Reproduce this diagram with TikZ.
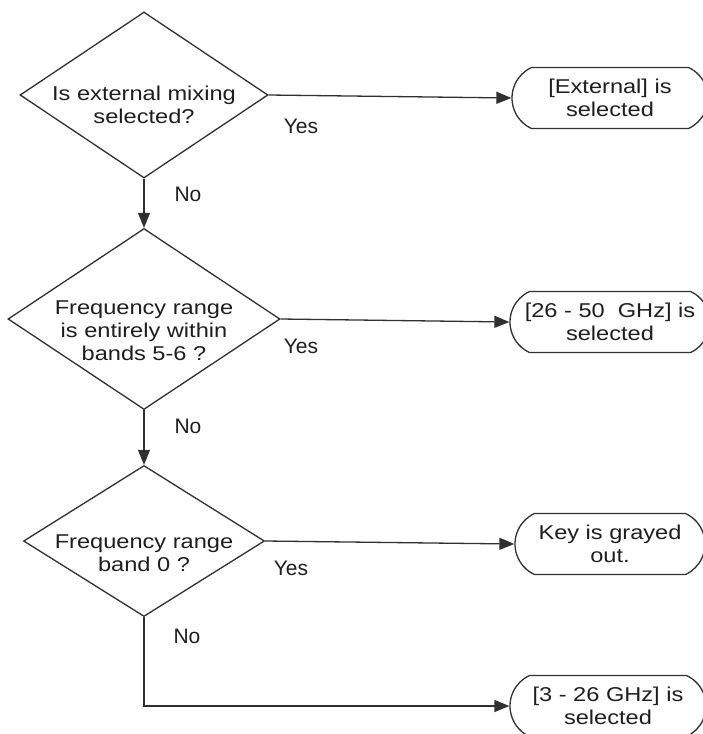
\documentclass[tikz,border=0pt]{standalone}
\usepackage{fontspec}
\setmainfont{Liberation Sans}
\newfontfamily\boxfont[FakeStretch=1.18]{Liberation Sans}
\usetikzlibrary{shapes.geometric,shapes.misc,arrows.meta,positioning}
\definecolor{linegray}{HTML}{303030}
\definecolor{textgray}{HTML}{1e1e1e}

\begin{document}
\begin{tikzpicture}[x=1pt,y=-1pt,>={Triangle[length=15pt,width=12pt]},
    decision/.style={diamond,draw=linegray,line width=1.3pt,inner sep=0pt},
    outcome/.style={rounded rectangle,rounded rectangle arc length=130,
        draw=linegray,line width=1.3pt,minimum height=61pt,inner sep=0pt,
        align=center,text=textgray,font=\boxfont\fontsize{20}{23}\selectfont},
    question/.style={align=center,text=textgray,
        font=\boxfont\fontsize{20}{23}\selectfont},
    answer/.style={text=textgray,font=\fontsize{21}{24}\selectfont},
    flow/.style={->,draw=linegray,line width=1.3pt}]

    \useasboundingbox (0,0) rectangle (702,734);

    % decisions, text set a little below the centre
    \node[decision,minimum width=248pt,minimum height=166pt] (ext) at (144,95) {};
    \node[question] (extq) at ([yshift=-10pt]ext.center) {Is external mixing\\selected?};

    \node[decision,minimum width=272pt,minimum height=181pt] (band56) at (144,319) {};
    \node[question] (band56q) at ([yshift=-12pt]band56.center) {Frequency range\\is entirely within\\bands 5-6 ?};

    \node[decision,minimum width=241pt,minimum height=151pt] (band0) at (144,541) {};
    \node[question] (band0q) at ([yshift=-12pt]band0.center) {Frequency range\\band 0 ?};

    % outcomes, cut off at the right edge
    \node[outcome,minimum width=196pt] (extsel) at (610,98) {[External] is\\selected};
    \node[outcome,minimum width=200pt] (hisel) at (610,322) {[26 - 50\ \ GHz] is\\selected};
    \node[outcome,minimum width=190pt] (grayed) at (610,544) {Key is grayed\\out.};
    \node[outcome,minimum width=196pt] (losel) at (608,706) {[3 - 26 GHz] is\\selected};

    \node[answer] (extyes) at (301,126) {Yes};
    \node[answer] (extno) at (188,194) {No};
    \node[answer] (band56yes) at (301,346) {Yes};
    \node[answer] (band56no) at (188,426) {No};
    \node[answer] (band0yes) at (291,568) {Yes};
    \node[answer] (band0no) at (187,636) {No};

    \draw[flow] (ext.east) -- (extsel.west);
    \draw[flow] (ext.south) -- (band56.north);
    \draw[flow] (band56.east) -- (hisel.west);
    \draw[flow] (band56.south) -- (band0.north);
    \draw[flow] (band0.east) -- (grayed.west);
    \draw[flow] (band0.south) |- (losel.west);
\end{tikzpicture}
\end{document}
